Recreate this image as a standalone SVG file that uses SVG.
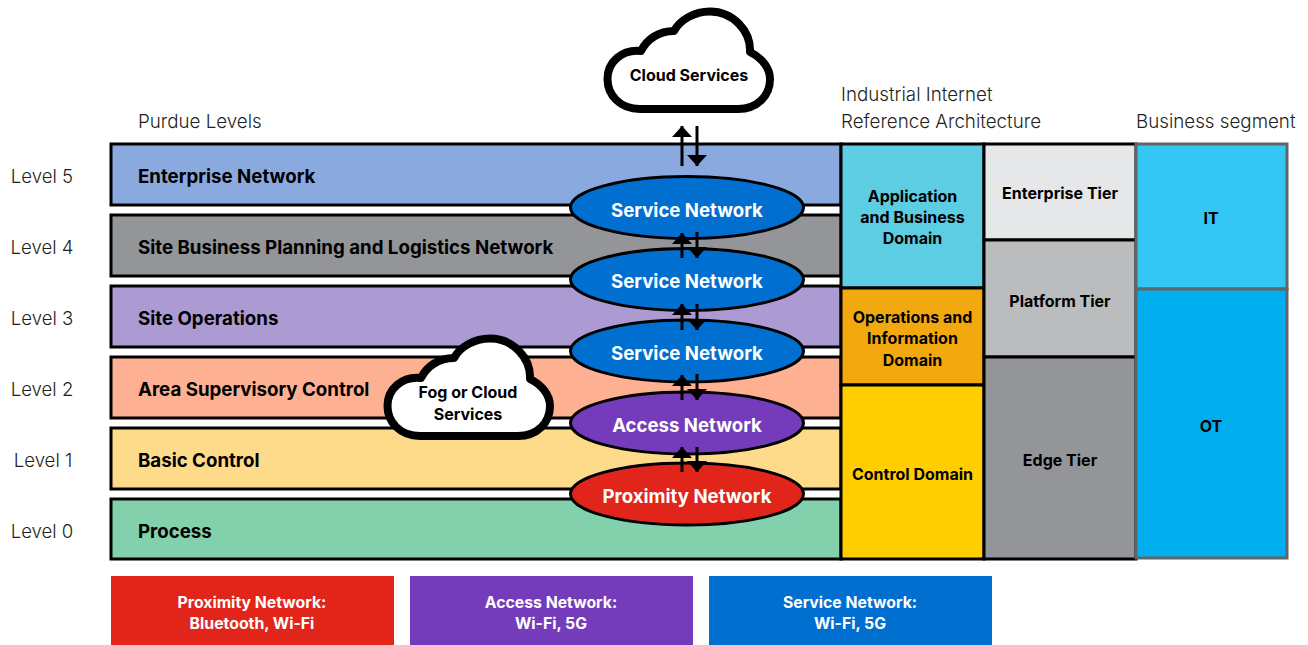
<svg xmlns="http://www.w3.org/2000/svg" width="1308" height="645" viewBox="0 0 1308 645">
<style>
text{font-family:Inter,"Noto Sans","Liberation Sans",sans-serif;}
.lab{font-size:18.75px;font-weight:300;fill:#231f20;}
.lvl{font-size:18.6px;font-weight:300;fill:#231f20;text-anchor:middle;}
.bar{stroke:#000;stroke-width:3;}
.bt{font-size:18.68px;font-weight:700;fill:#000;}
.ct{font-size:16px;font-weight:700;fill:#000;text-anchor:middle;}
.el{stroke:#000;stroke-width:3;}
.et{font-size:18.6px;font-weight:700;fill:#fff;text-anchor:middle;}
.cell{stroke:#000;stroke-width:3;}
.seg{stroke:#636466;stroke-width:3;}
.leg{font-size:15.8px;font-weight:700;fill:#fff;text-anchor:middle;}
.cloud{fill:#fff;stroke:#000;stroke-width:8;stroke-linejoin:round;}
.arr{stroke:#000;stroke-width:3;fill:none;}
</style>
<defs>
<marker id="h" viewBox="0 0 11 20" refX="11" refY="10" markerUnits="userSpaceOnUse" markerWidth="11" markerHeight="20" orient="auto"><path d="M0 0L11 10L0 20Z" fill="#000"/></marker>
<path id="cl" d="M640 109C620 109 607.500 95 607.500 79C607.500 62 622 49 641 51C647 39 659 31 674 31C680 20 694 11.500 710 11.500C733 11.500 751 31 750 52C762 58 770 68 770 79C770 96 757 109 738 109Z"/>
</defs>
<g id="level-labels">
<text class="lvl" x="42" y="183">Level 5</text>
<text class="lvl" x="42" y="254">Level 4</text>
<text class="lvl" x="42" y="325">Level 3</text>
<text class="lvl" x="42" y="396">Level 2</text>
<text class="lvl" x="43" y="467">Level 1</text>
<text class="lvl" x="42" y="538">Level 0</text>
</g>
<g id="headers">
<text class="lab" x="138" y="128">Purdue Levels</text>
<text class="lab" x="841" y="101">Industrial Internet</text>
<text class="lab" x="841" y="128">Reference Architecture</text>
<text class="lab" x="1136" y="128">Business segment</text>
</g>
<g id="level5"><rect class="bar" x="111" y="144" width="730" height="61" fill="#8aaadf"/><text class="bt" x="138" y="183">Enterprise Network</text></g>
<g id="level4"><rect class="bar" x="111" y="215" width="730" height="61" fill="#939598"/><text class="bt" x="138" y="254">Site Business Planning and Logistics Network</text></g>
<g id="level3"><rect class="bar" x="111" y="286" width="730" height="61" fill="#ac9ad3"/><text class="bt" x="138" y="325">Site Operations</text></g>
<g id="level2"><rect class="bar" x="111" y="357" width="730" height="61" fill="#feb093"/><text class="bt" x="138" y="396">Area Supervisory Control</text></g>
<g id="level1"><rect class="bar" x="111" y="428" width="730" height="61" fill="#fedb8b"/><text class="bt" x="138" y="467">Basic Control</text></g>
<g id="level0"><rect class="bar" x="111" y="499" width="730" height="60" fill="#83d1ac"/><text class="bt" x="138" y="538">Process</text></g>
<g id="app-domain"><rect class="cell" x="841" y="144" width="143" height="144" fill="#5dcde3"/><text class="ct" x="912.500" y="202">Application</text><text class="ct" x="912.500" y="223">and Business</text><text class="ct" x="912.500" y="244">Domain</text></g>
<g id="ops-domain"><rect class="cell" x="841" y="288" width="143" height="97" fill="#f2a90f"/><text class="ct" x="912.500" y="323">Operations and</text><text class="ct" x="912.500" y="344">Information</text><text class="ct" x="912.500" y="366">Domain</text></g>
<g id="control-domain"><rect class="cell" x="841" y="385" width="143" height="174" fill="#ffcd00"/><text class="ct" x="912.500" y="480">Control Domain</text></g>
<g id="enterprise-tier"><rect class="cell" x="984" y="144" width="152" height="96" fill="#e6e7e9"/><text class="ct" x="1060" y="199">Enterprise Tier</text></g>
<g id="platform-tier"><rect class="cell" x="984" y="240" width="152" height="117" fill="#bbbcbe"/><text class="ct" x="1060" y="307">Platform Tier</text></g>
<g id="edge-tier"><rect class="cell" x="984" y="357" width="152" height="202" fill="#939598"/><text class="ct" x="1060" y="466">Edge Tier</text></g>
<g id="it"><rect class="seg" x="1136" y="144" width="151" height="145" fill="#33c6f4"/><text class="ct" x="1211" y="224">IT</text></g>
<g id="ot"><rect class="seg" x="1136" y="289" width="151" height="269" fill="#00aeef"/><text class="ct" x="1211" y="432">OT</text></g>
<g id="cloud-services"><use href="#cl" class="cloud"/><text class="ct" x="689" y="81">Cloud Services</text></g>
<g id="fog-cloud"><use href="#cl" class="cloud" transform="translate(-220 327)"/><text class="ct" x="468" y="398">Fog or Cloud</text><text class="ct" x="468" y="420">Services</text></g>
<g id="service1"><ellipse class="el" cx="687" cy="207.500" rx="116.500" ry="31" fill="#006fcf"/><text class="et" x="687" y="217">Service Network</text></g>
<g id="service2"><ellipse class="el" cx="687" cy="279.500" rx="116.500" ry="31" fill="#006fcf"/><text class="et" x="687" y="288">Service Network</text></g>
<g id="service3"><ellipse class="el" cx="687" cy="351" rx="116.500" ry="31" fill="#006fcf"/><text class="et" x="687" y="360">Service Network</text></g>
<g id="access"><ellipse class="el" cx="687" cy="423" rx="116.500" ry="31" fill="#743cbb"/><text class="et" x="687" y="432">Access Network</text></g>
<g id="proximity"><ellipse class="el" cx="687" cy="494" rx="116.500" ry="31" fill="#e1251b"/><text class="et" x="687" y="503">Proximity Network</text></g>
<g id="connectors">
<path class="arr" marker-end="url(#h)" d="M682 166V126"/><path class="arr" marker-end="url(#h)" d="M697 126V166"/>
<path class="arr" marker-end="url(#h)" d="M682 258V233"/><path class="arr" marker-end="url(#h)" d="M697 232V258"/>
<path class="arr" marker-end="url(#h)" d="M682 330V304"/><path class="arr" marker-end="url(#h)" d="M697 304V330"/>
<path class="arr" marker-end="url(#h)" d="M682 400V375"/><path class="arr" marker-end="url(#h)" d="M697 374V400"/>
<path class="arr" marker-end="url(#h)" d="M682 472V447"/><path class="arr" marker-end="url(#h)" d="M697 447V472"/>
</g>
<g id="legend-proximity"><rect x="111" y="576" width="283" height="69" fill="#e1251b"/><text class="leg" x="252" y="608">Proximity Network:</text><text class="leg" x="252" y="629">Bluetooth, Wi-Fi</text></g>
<g id="legend-access"><rect x="410" y="576" width="283" height="69" fill="#743cbb"/><text class="leg" x="551" y="608">Access Network:</text><text class="leg" x="551" y="629">Wi-Fi, 5G</text></g>
<g id="legend-service"><rect x="709" y="576" width="283" height="69" fill="#006fcf"/><text class="leg" x="850" y="608">Service Network:</text><text class="leg" x="850" y="629">Wi-Fi, 5G</text></g>
</svg>
